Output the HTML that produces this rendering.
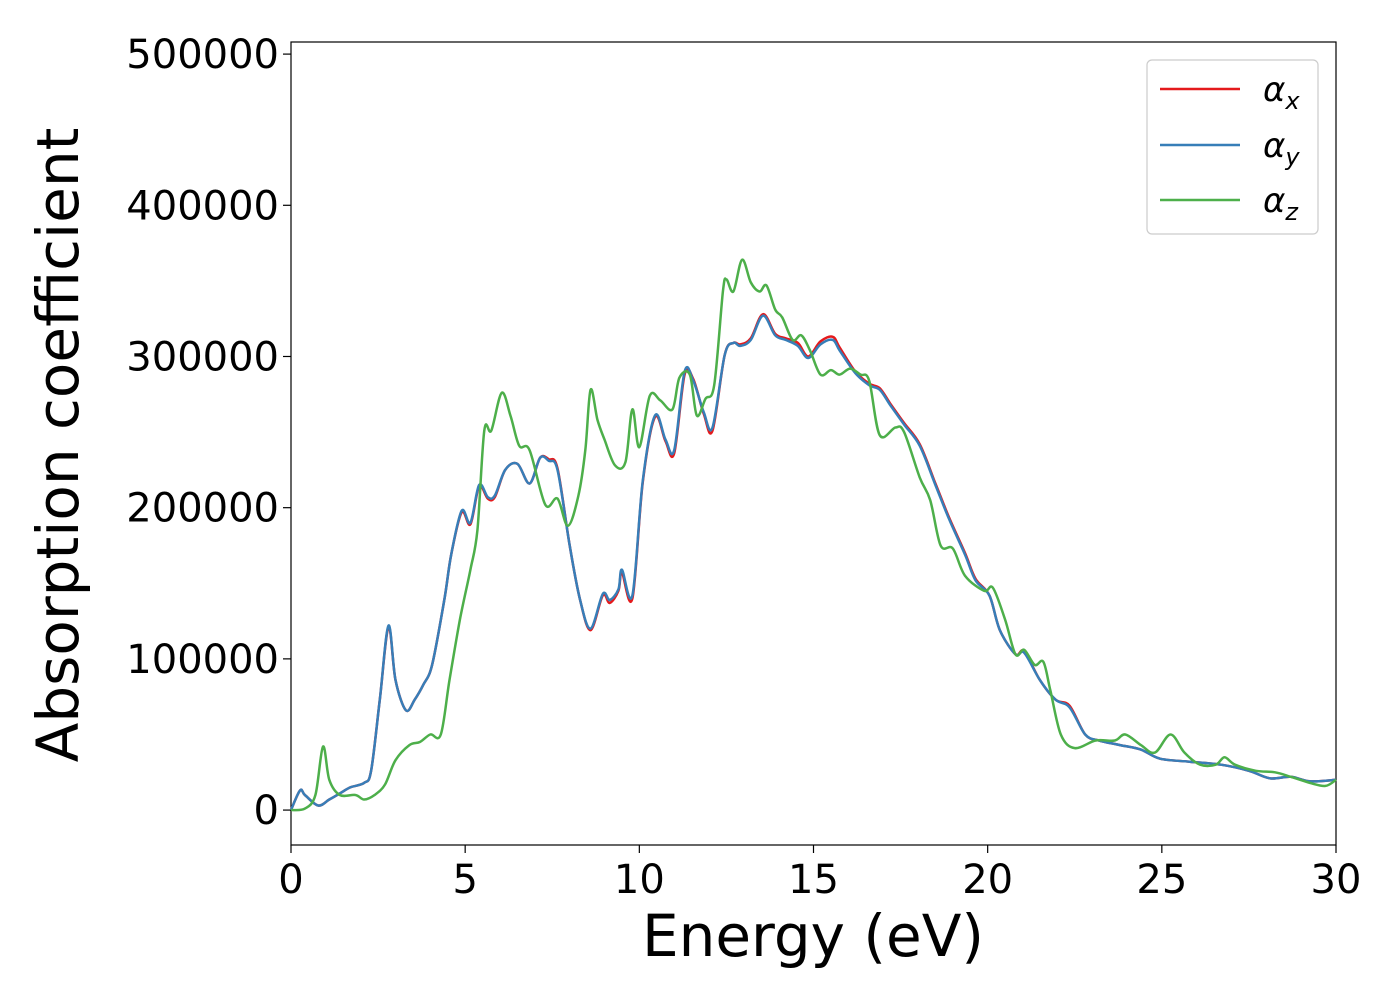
<!DOCTYPE html>
<html><head><meta charset="utf-8"><style>
html,body{margin:0;padding:0;background:#fff;width:1400px;height:1000px;overflow:hidden}
svg{font-family:"DejaVu Sans","Liberation Sans",sans-serif}
</style></head><body>
<svg id="chart" width="1400" height="1000" viewBox="0 0 1400 1000" xmlns="http://www.w3.org/2000/svg">
<rect x="291" y="42" width="1045" height="803" fill="#fff" stroke="#000" stroke-width="1.2"/>
<g id="xticks"></g>
<g id="yticks"></g>
<g id="series"></g>
<text x="813" y="956" font-size="58" text-anchor="middle">Energy (eV)</text>
<text transform="translate(78,445) rotate(-90)" font-size="58" text-anchor="middle">Absorption coefficient</text>
<g>
<rect x="1147" y="60" width="171" height="174" rx="5" fill="#fff" stroke="#ccc" stroke-width="1.2"/>
<g><line x1="1160" y1="89" x2="1240" y2="89" stroke="#e41a1c" stroke-width="2.5"/><text x="1263" y="101" font-size="34" font-style="italic">α<tspan font-size="24" dy="8">x</tspan></text></g>
<g><line x1="1160" y1="145" x2="1240" y2="145" stroke="#377eb8" stroke-width="2.5"/><text x="1263" y="157" font-size="34" font-style="italic">α<tspan font-size="24" dy="8">y</tspan></text></g>
<g><line x1="1160" y1="200" x2="1240" y2="200" stroke="#4daf4a" stroke-width="2.5"/><text x="1263" y="212" font-size="34" font-style="italic">α<tspan font-size="24" dy="8">z</tspan></text></g>
</g>
</svg>
<script>
const xTicks=[0,5,10,15,20,25,30];
const yTicks=[0,100000,200000,300000,400000,500000];
const xyE=[0,0.26,0.4,0.78,1.1,1.4,1.7,2.1,2.3,2.55,2.8,3.0,3.3,3.55,3.8,4.05,4.4,4.6,4.9,5.15,5.4,5.65,5.85,6.15,6.5,6.85,7.15,7.4,7.65,8.0,8.3,8.6,8.95,9.15,9.4,9.5,9.8,10.1,10.45,10.75,11.0,11.3,11.55,11.85,12.1,12.45,12.7,12.9,13.2,13.55,13.9,14.2,14.55,14.85,15.2,15.55,15.75,16.2,16.6,16.9,17.2,17.6,18.05,18.5,18.9,19.35,19.65,20.05,20.35,20.8,21.05,21.5,21.95,22.35,22.8,23.2,23.8,24.4,24.95,25.8,26.7,27.5,28.1,28.7,29.25,30];
const alphaY=[0,13000,10000,3000,7000,11000,15000,18000,26000,73000,122000,86000,66000,73000,83000,96000,139000,169000,198000,190000,215000,207000,208000,225000,229000,216000,233000,231000,225000,175000,139000,120000,143000,139000,146000,159000,142000,218000,261000,245000,238000,290000,284000,263000,253000,301000,309000,307000,311000,327000,314000,311000,307000,299000,308000,311000,304000,289000,281000,278000,268000,255000,241000,215000,192000,169000,152000,142000,119000,103000,104000,86000,73000,68000,50000,46000,43000,40000,34000,32000,30000,26000,21000,22000,19000,20000];
const alphaX=[0,13000,10000,3000,7000,11000,15000,18000,26000,73000,121000,86000,66000,73000,83000,96000,139000,169000,197000,189000,214000,206000,207000,225000,229000,216000,233000,232000,226000,175000,139000,119000,142000,137000,145000,157000,140000,217000,260000,244000,236000,288000,285000,262000,251000,301000,309000,308000,312000,328000,315000,312000,309000,300000,310000,313000,306000,290000,282000,279000,269000,256000,242000,216000,193000,170000,153000,142000,119000,103000,105000,86000,73000,69000,50000,46000,43000,40000,34000,32000,30000,26000,21000,22000,19000,20000];
const zE=[0,0.4,0.7,0.92,1.1,1.4,1.85,2.1,2.4,2.7,3.0,3.4,3.7,4.0,4.3,4.55,4.85,5.15,5.35,5.55,5.75,6.05,6.3,6.55,6.85,7.3,7.65,7.95,8.25,8.45,8.6,8.8,9.0,9.3,9.6,9.8,10.0,10.3,10.6,10.95,11.15,11.45,11.65,11.9,12.15,12.4,12.5,12.7,12.95,13.2,13.45,13.65,13.9,14.1,14.4,14.65,14.9,15.2,15.5,15.75,16.05,16.35,16.6,16.9,17.35,17.6,18.05,18.35,18.65,19.0,19.35,19.9,20.15,20.5,20.8,21.05,21.35,21.6,21.8,22.1,22.5,23.1,23.65,23.95,24.4,24.8,25.25,25.65,26.1,26.55,26.8,27.1,27.7,28.25,28.7,29.25,29.7,30];
const alphaZ=[0,1000,10000,42000,20000,10000,10000,7000,10000,17000,33000,43000,45000,50000,50000,86000,126000,159000,185000,251000,251000,276000,261000,241000,238000,202000,206000,188000,208000,238000,278000,258000,245000,228000,230000,265000,240000,274000,271000,265000,286000,288000,261000,272000,281000,343000,351000,343000,364000,349000,343000,347000,331000,326000,311000,314000,304000,288000,291000,288000,292000,288000,284000,248000,253000,250000,220000,205000,175000,173000,155000,145000,147000,126000,103000,106000,96000,98000,79000,50000,41000,46000,46000,50000,43000,38000,50000,38000,30000,30000,35000,30000,26000,25000,22000,18000,16000,20000];
const X0=291,X1=1336,Y0v=-23100,Y1v=508000,PT=42,PB=845;
function sx(e){return X0+(e-0)/(30-0)*(X1-X0);}
function sy(v){return PB-(v-Y0v)/(Y1v-Y0v)*(PB-PT);}
const NS="http://www.w3.org/2000/svg";
function mk(t,a,p){const el=document.createElementNS(NS,t);for(const k in a)el.setAttribute(k,a[k]);p.appendChild(el);return el;}
const xg=document.getElementById('xticks'),yg=document.getElementById('yticks');
xTicks.forEach(t=>{const x=sx(t);
 const l=mk('line',{x1:x,y1:PB,x2:x,y2:PB+8,stroke:'#000','stroke-width':1.2},xg);
 
 
 const tx=mk('text',{x:x,y:PB+48,'font-size':40,'text-anchor':'middle'},xg);tx.textContent=t;
 
 });
yTicks.forEach(t=>{const y=sy(t);
 const l=mk('line',{x1:X0-8,y1:y,x2:X0,y2:y,stroke:'#000','stroke-width':1.2},yg);
 
 
 const tx=mk('text',{x:X0-12,y:y+14,'font-size':40,'text-anchor':'end'},yg);tx.textContent=t;
 
 });
function pathD(E,V){const p=E.map((e,i)=>[sx(e),sy(V[i])]);let d='M'+p[0][0]+','+p[0][1];
 for(let i=0;i<p.length-1;i++){const a=p[i-1]||p[i],b=p[i],c=p[i+1],n=p[i+2]||c;
 const c1=[b[0]+(c[0]-a[0])/6,b[1]+(c[1]-a[1])/6],c2=[c[0]-(n[0]-b[0])/6,c[1]-(n[1]-b[1])/6];
 d+=' C'+c1[0].toFixed(1)+','+c1[1].toFixed(1)+' '+c2[0].toFixed(1)+','+c2[1].toFixed(1)+' '+c[0].toFixed(1)+','+c[1].toFixed(1);}return d;}
const sg=document.getElementById('series');
const px=mk('path',{d:pathD(xyE,alphaX),fill:'none',stroke:'#e41a1c','stroke-width':2.5},sg);


const py=mk('path',{d:pathD(xyE,alphaY),fill:'none',stroke:'#377eb8','stroke-width':2.5},sg);


const pz=mk('path',{d:pathD(zE,alphaZ),fill:'none',stroke:'#4daf4a','stroke-width':2.5},sg);


</script>
</body></html>
